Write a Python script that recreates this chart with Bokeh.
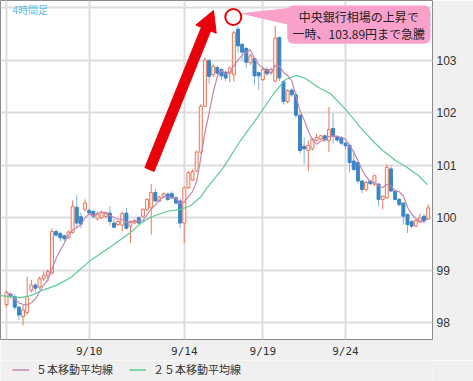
import pandas as pd
from bokeh.plotting import figure
from bokeh.layouts import column
from bokeh.models import (Range1d, FixedTicker, Legend, LegendItem, Label,
                          BoxAnnotation, ColumnDataSource)
from bokeh.embed import file_html
from bokeh.resources import INLINE

# ---------------- data (4-hour candles) ----------------
opens = [98.35, 98.55, 98.50, 98.30, 98.12, 98.20, 98.62, 98.72, 98.68, 98.84,
         98.90, 98.95, 99.74, 99.70, 99.66, 99.62, 99.72, 100.20, 100.02, 100.16,
         100.14, 100.12, 99.98, 100.00, 100.02, 100.09, 99.90, 99.87, 99.86, 100.09,
         99.84, 99.90, 100.00, 100.03, 100.16, 100.19, 100.48, 100.32, 100.41, 100.45,
         100.46, 100.38, 100.32, 99.90, 100.57, 100.72, 100.89, 101.25, 102.12, 102.99,
         102.72, 102.86, 102.82, 102.77, 102.75, 102.72, 103.59, 103.30, 103.22, 102.95,
         103.03, 102.76, 102.63, 102.82, 102.76, 102.60, 103.43, 102.59, 102.21, 102.43,
         102.34, 101.95, 101.36, 101.28, 101.31, 101.47, 101.50, 101.56, 101.47, 101.70,
         101.55, 101.53, 101.42, 101.38, 101.08, 101.05, 100.70, 100.54, 100.70, 100.64,
         100.64, 100.35, 100.38, 100.93, 100.51, 100.35, 100.28, 100.06, 99.93, 99.84,
         99.92, 100.03, 99.98]
highs = [98.62, 98.58, 98.55, 98.33, 98.35, 98.88, 98.82, 98.76, 98.88, 98.98,
         99.02, 99.80, 99.78, 99.74, 99.68, 99.76, 100.33, 100.43, 100.10, 100.35,
         100.18, 100.15, 100.12, 100.14, 100.12, 100.22, 99.98, 99.95, 100.12, 100.19,
         99.95, 99.97, 100.03, 100.18, 100.37, 100.64, 100.55, 100.42, 100.48, 100.48,
         100.50, 100.42, 100.36, 100.60, 100.90, 100.92, 101.28, 102.16, 103.05, 103.02,
         102.92, 102.90, 102.85, 102.80, 102.88, 103.56, 103.66, 103.33, 103.25, 103.12,
         103.05, 102.78, 102.86, 102.86, 102.86, 103.65, 103.45, 102.62, 102.45, 102.46,
         102.40, 101.98, 101.53, 101.47, 101.52, 101.60, 101.58, 101.58, 102.11, 101.99,
         101.56, 101.55, 101.44, 101.41, 101.28, 101.05, 100.72, 100.70, 100.72, 100.82,
         100.66, 100.43, 101.02, 101.00, 100.53, 100.37, 100.30, 100.08, 99.96, 99.97,
         100.08, 100.08, 100.26]
lows = [98.30, 98.45, 98.25, 98.05, 97.95, 98.15, 98.58, 98.60, 98.64, 98.80,
        98.78, 98.92, 99.64, 99.55, 99.56, 99.60, 99.70, 99.80, 99.80, 100.12,
        100.05, 99.98, 99.95, 99.98, 100.00, 99.85, 99.80, 99.84, 99.74, 99.78,
        99.52, 99.88, 99.88, 100.00, 100.12, 99.68, 100.30, 100.30, 100.38, 100.32,
        100.36, 100.25, 99.80, 99.52, 100.55, 100.70, 100.87, 101.22, 102.10, 102.55,
        102.68, 102.72, 102.62, 102.60, 102.58, 102.59, 103.14, 103.00, 102.85, 102.91,
        102.53, 102.43, 102.60, 102.70, 102.72, 102.58, 102.60, 102.15, 102.18, 102.30,
        101.90, 101.22, 101.02, 100.89, 101.28, 101.45, 101.48, 101.45, 101.25, 101.41,
        101.44, 101.38, 101.30, 100.86, 100.88, 100.64, 100.47, 100.50, 100.62, 100.60,
        100.22, 100.16, 100.36, 100.49, 100.33, 100.22, 99.87, 99.71, 99.80, 99.82,
        99.90, 99.90, 99.96]
closes = [98.58, 98.50, 98.30, 98.15, 98.25, 98.50, 98.72, 98.66, 98.84, 98.90,
          98.98, 99.74, 99.67, 99.62, 99.60, 99.73, 100.22, 99.90, 99.88, 100.28,
          100.09, 100.03, 100.08, 100.10, 100.10, 99.93, 99.82, 99.93, 100.08, 99.80,
          99.93, 99.95, 99.90, 100.16, 100.35, 100.48, 100.32, 100.39, 100.46, 100.35,
          100.38, 100.28, 99.90, 100.57, 100.86, 100.88, 101.25, 102.12, 103.00, 102.69,
          102.88, 102.75, 102.70, 102.66, 102.85, 103.52, 103.27, 103.15, 102.96, 103.08,
          102.70, 102.70, 102.82, 102.74, 102.82, 103.42, 102.66, 102.21, 102.42, 102.34,
          101.95, 101.28, 101.31, 101.38, 101.50, 101.53, 101.56, 101.48, 101.68, 101.55,
          101.48, 101.42, 101.37, 101.05, 100.92, 100.70, 100.54, 100.67, 100.65, 100.80,
          100.35, 100.41, 100.96, 100.51, 100.35, 100.25, 100.03, 99.87, 99.84, 99.95,
          100.00, 99.95, 100.19]

# 25-bar moving average (bar position, price)
ma25_pos = [-1.45, 3.4, 5.8, 9.0, 11.9, 15.5, 20.3, 25.2, 30.0, 32.4, 34.8, 38.7,
            42.1, 44.5, 46.9, 48.6, 52.5, 56.6, 60.7, 64.6, 67.5, 70.2, 72.3, 75.5,
            78.4, 82.3, 85.6, 88.5, 91.0, 94.1, 96.5, 99.7, 101.8]
ma25_val = [98.52, 98.48, 98.52, 98.63, 98.71, 98.86, 99.19, 99.45, 99.72, 99.89,
            100.01, 100.12, 100.16, 100.23, 100.39, 100.58, 100.96, 101.47, 101.91,
            102.36, 102.63, 102.71, 102.65, 102.48, 102.36, 102.04, 101.72, 101.47,
            101.28, 101.09, 100.98, 100.80, 100.63]

date_ticks = [0, 20, 43, 62, 82]
date_labels = ["", "9/10", "9/14", "9/19", "9/24"]
price_ticks = [98, 99, 100, 101, 102, 103, 104]
price_labels = ["98", "99", "100", "101", "102", "103", ""]

legend_labels = ["５本移動平均線", "２５本移動平均線"]
period_label = "4時間足"
note_lines = ["中央銀行相場の上昇で", "一時、103.89円まで急騰"]

# ---------------- geometry helpers (screen px -> data) ----------------
W = 473
FRAME_W, FRAME_H = 432, 339
MAIN_H, LEG_H = 360, 21
X_PX0, X_PX_STEP = 6.0, 4.134
Y_PX100, Y_PX_STEP = 217.3, 52.57


def sx2x(px):
    return (px - X_PX0) / X_PX_STEP


def sy2y(py):
    return 100 + (Y_PX100 - py) / Y_PX_STEP


idx = list(range(len(closes)))
df = pd.DataFrame(dict(i=idx, o=opens, h=highs, l=lows, c=closes))
df["ma5"] = df["c"].rolling(5, min_periods=1).mean()
up = df[df.c >= df.o]
dn = df[df.c < df.o]
src_up = ColumnDataSource(up)
src_dn = ColumnDataSource(dn)

BG = "#f0f0f0"
C5, C25 = "#c983b0", "#5ccc95"

p = figure(width=W, height=MAIN_H,
           x_range=Range1d(sx2x(0), sx2x(FRAME_W)),
           y_range=Range1d(sy2y(FRAME_H), sy2y(0)),
           y_axis_location="right",
           min_border_left=0, min_border_top=0,
           min_border_right=W - FRAME_W, min_border_bottom=MAIN_H - FRAME_H,
           output_backend="svg", toolbar_location=None)

p.background_fill_color = "white"
p.border_fill_color = BG
p.outline_line_color = "#8a8a8a"
p.outline_line_width = 1

# axes
p.xaxis.ticker = FixedTicker(ticks=date_ticks)
p.xaxis.major_label_overrides = {t: s for t, s in zip(date_ticks, date_labels)}
p.yaxis.ticker = FixedTicker(ticks=price_ticks)
p.yaxis.major_label_overrides = {t: s for t, s in zip(price_ticks, price_labels)}
for ax in (p.xaxis[0], p.yaxis[0]):
    ax.axis_line_color = None
    ax.major_tick_line_color = None
    ax.minor_tick_line_color = None
    ax.major_tick_out = 0
    ax.major_tick_in = 0
    ax.minor_tick_out = 0
    ax.minor_tick_in = 0
    ax.major_label_text_color = "#333333"
p.xaxis.major_label_text_font = "DejaVu Sans Mono"
p.xaxis.major_label_text_font_size = "11px"
p.xaxis.major_label_standoff = 5
p.yaxis.major_label_text_font = "Liberation Sans"
p.yaxis.major_label_text_font_size = "12px"
p.yaxis.major_label_standoff = 4

p.xgrid.grid_line_color = "#dddddd"
p.xgrid.grid_line_width = 2
p.ygrid.grid_line_color = "#dddddd"
p.ygrid.grid_line_width = 2

# candles
UP_LINE, UP_FILL = "#e57a5e", "#fff1ec"
DN_FILL, DN_WICK = "#3a85c6", "#80b3df"
BODY_W = 0.72
p.segment(x0="i", y0="l", x1="i", y1="h", source=src_up, line_color=UP_LINE, line_width=1)
p.segment(x0="i", y0="l", x1="i", y1="h", source=src_dn, line_color=DN_WICK, line_width=1)
p.vbar(x="i", bottom="o", top="c", width=BODY_W, source=src_up,
       fill_color=UP_FILL, line_color=UP_LINE, line_width=1)
p.vbar(x="i", bottom="c", top="o", width=BODY_W, source=src_dn,
       fill_color=DN_FILL, line_color=DN_FILL, line_width=1)

# moving averages
p.line(df["i"], df["ma5"], line_color=C5, line_width=1.2)
p.line(ma25_pos, ma25_val, line_color=C25, line_width=1.2)

# big red arrow (annotation)
arrow_px = [(144.4, 167.1), (153.6, 170.9), (210.1, 30.5), (215.7, 32.7),
            (213.0, 10.0), (195.3, 24.5), (200.9, 26.7)]
p.patch([sx2x(a) for a, b in arrow_px], [sy2y(b) for a, b in arrow_px],
        fill_color="#e8000b", line_color="#e8000b", line_width=1)

# callout box
PINK = "#f9a1cb"
box = BoxAnnotation(left=sx2x(286.7), right=sx2x(430), top=sy2y(5), bottom=sy2y(43.3),
                    fill_color=PINK, fill_alpha=1, line_color=None, border_radius=6)
p.add_layout(box)
p.patch([sx2x(242), sx2x(289), sx2x(289)], [sy2y(13), sy2y(8), sy2y(24)],
        fill_color=PINK, line_color=PINK)
for text, ypx in zip(note_lines, [16.0, 32.5]):
    p.add_layout(Label(x=sx2x(358.3), y=sy2y(ypx), text=text, text_align="center",
                       text_baseline="middle", text_font="Noto Sans CJK JP",
                       text_font_size="12px", text_color="#222222"))

# red circle marking the high
p.scatter(x=[sx2x(232.8)], y=[sy2y(16.5)], marker="circle", size=16,
          fill_color=None, line_color="#e60000", line_width=2)

# period label
p.add_layout(Label(x=sx2x(12), y=sy2y(8.5), text=period_label, text_align="left",
                   text_baseline="middle", text_font="Noto Sans CJK JP",
                   text_font_size="10px", text_color="#55c3ea"))

# ---------------- legend strip under the chart ----------------
q = figure(width=W, height=LEG_H, x_range=Range1d(0, W), y_range=Range1d(0, LEG_H),
           min_border=0, output_backend="svg", toolbar_location=None)
q.axis.visible = False
q.grid.visible = False
q.outline_line_color = None
q.background_fill_color = BG
q.border_fill_color = BG
# key glyphs only (kept outside the visible strip)
k5 = q.line([-20, -10], [-20, -20], line_color=C5, line_width=1.5)
k25 = q.line([-20, -10], [-20, -20], line_color=C25, line_width=1.5)
legend = Legend(items=[LegendItem(label=legend_labels[0], renderers=[k5]),
                       LegendItem(label=legend_labels[1], renderers=[k25])],
                orientation="horizontal", location=(12, 4))
legend.margin = 0
legend.padding = 0
legend.spacing = 16
legend.glyph_width = 17
legend.glyph_height = 15
legend.label_height = 15
legend.label_standoff = 7
legend.label_text_font = "Noto Sans CJK JP"
legend.label_text_font_size = "11px"
legend.label_text_color = "#333333"
legend.border_line_color = None
legend.background_fill_alpha = 0
q.add_layout(legend)

layout = column(p, q, spacing=0)
open("out.html", "w").write(file_html(layout, INLINE))
